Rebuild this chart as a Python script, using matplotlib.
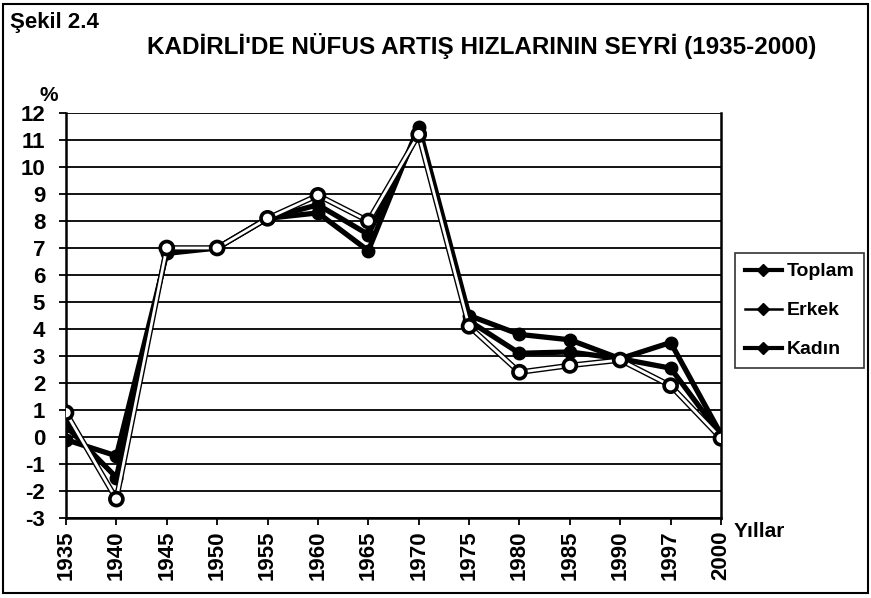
import matplotlib.pyplot as plt
import matplotlib.patheffects as pe
from matplotlib.lines import Line2D
from matplotlib.patches import Rectangle

years = ['1935', '1940', '1945', '1950', '1955', '1960', '1965',
         '1970', '1975', '1980', '1985', '1990', '1997', '2000']
toplam = [0.4, -1.5, 6.9, 7.0, 8.1, 8.6, 7.5, 11.3, 4.3, 3.1, 3.15, 2.9, 2.55, 0.05]
erkek = [0.9, -2.3, 7.0, 7.0, 8.1, 8.95, 8.0, 11.2, 4.1, 2.4, 2.65, 2.85, 1.9, -0.05]
kadin = [-0.1, -0.7, 6.8, 7.0, 8.1, 8.3, 6.9, 11.5, 4.5, 3.8, 3.6, 2.9, 3.5, 0.1]
y_ticks = list(range(-3, 13))

plt.rcParams['font.family'] = ['Liberation Sans', 'DejaVu Sans']
plt.rcParams['font.weight'] = 'bold'

fig = plt.figure(figsize=(8.71, 5.98), dpi=100)
ax = fig.add_axes([66 / 871, 1 - 518 / 598, (721 - 66) / 871, (518 - 113) / 598])

x = list(range(len(years)))

# grid lines
for v in y_ticks:
    ax.axhline(v, color='black', lw=1.3, zorder=1)

# black series
ax.plot(x, kadin, color='black', lw=3.8, marker='o', ms=9, zorder=3)
ax.plot(x, toplam, color='black', lw=3.8, marker='o', ms=9, zorder=3)
# light series drawn as white line with black outline
ax.plot(x, erkek, color='white', lw=2.0, marker='o', ms=8, mfc='white',
        mec='black', mew=1.3, zorder=4,
        path_effects=[pe.Stroke(linewidth=4.0, foreground='black'), pe.Normal()])

ax.set_xlim(0, len(years) - 1)
ax.set_ylim(-3, 12)
ax.set_xticks(x)
ax.set_xticklabels(years, rotation=90, fontsize=16, fontweight='bold')
ax.set_yticks(y_ticks)
ax.set_yticklabels([str(v) for v in y_ticks], fontsize=16, fontweight='bold')
ax.tick_params(axis='both', direction='out', length=5, width=1.3, color='black')
ax.tick_params(axis='y', pad=10)
ax.tick_params(axis='x', pad=4)
for side in ['left', 'bottom', 'right']:
    ax.spines[side].set_linewidth(1.8)
ax.spines['top'].set_visible(False)

ax.text(-0.04, 1.03, '%', transform=ax.transAxes, fontsize=15, fontweight='bold')
ax.text(1.02, -0.01, 'Yıllar', transform=ax.transAxes, fontsize=15,
        fontweight='bold', va='top')

# legend shows black lines with diamonds, as in the original
handles = [
    Line2D([], [], color='black', lw=3, marker='D', ms=6),
    Line2D([], [], color='black', lw=1.8, marker='D', ms=6),
    Line2D([], [], color='black', lw=3, marker='D', ms=6),
]
leg = fig.legend(handles, ['Toplam', 'Erkek', 'Kadın'], loc='upper left',
                 bbox_to_anchor=(735 / 871, 1 - 253 / 598), fontsize=14,
                 frameon=True, fancybox=False, edgecolor='black',
                 handlelength=1.9, handletextpad=0.25, labelspacing=1.1,
                 borderpad=0.5, borderaxespad=0)
leg.get_frame().set_linewidth(1.2)

fig.text(10 / 871, 1 - 28 / 598, 'Şekil 2.4', fontsize=16, fontweight='bold')
fig.text(147 / 871, 1 - 54 / 598, "KADİRLİ'DE NÜFUS ARTIŞ HIZLARININ SEYRİ (1935-2000)",
         fontsize=17.5, fontweight='bold')

fig.patches.append(Rectangle((0.004, 0.008), 0.992, 0.985, transform=fig.transFigure,
                             fill=False, edgecolor='black', lw=1.5))

fig.savefig('out.png', dpi=100)
